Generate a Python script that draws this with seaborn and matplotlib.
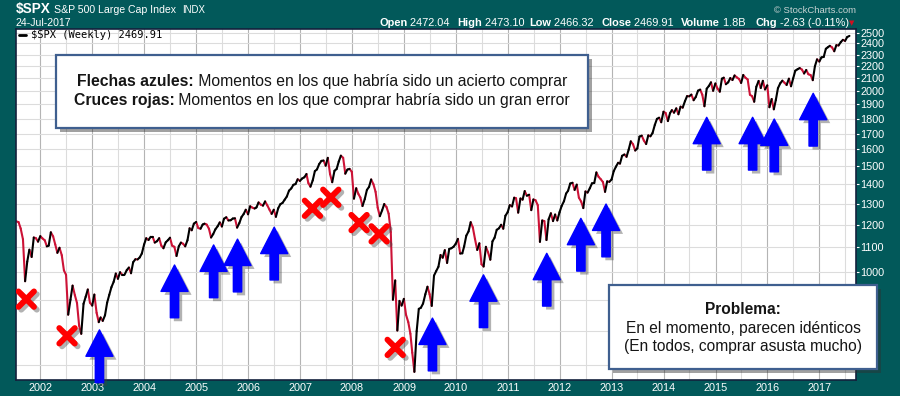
import pandas as pd
import matplotlib
matplotlib.use('Agg')
import matplotlib.pyplot as plt
import matplotlib.dates as mdates
import matplotlib.patheffects as pe
from matplotlib.patches import Rectangle
from matplotlib.lines import Line2D
from matplotlib.ticker import FixedLocator, NullFormatter, FuncFormatter
import seaborn as sns

first_month, last_month = '2001-07', '2017-07'
closes = [
    # 2001 (Jul-Dec)
    1215, 1211, 1182, 1134, 966, 1041, 1090, 1060, 1142, 1139, 1124, 1148,
    # 2002
    1138, 1130, 1104, 1107, 1165, 1147, 1112, 1077, 1098, 1067, 1007, 990,
    850, 900, 950, 916, 889, 815, 790, 886, 910, 936, 890, 880,
    # 2003
    918, 856, 826, 841, 830, 848, 890, 917, 944, 964, 995, 975,
    1000, 990, 990, 1008, 1018, 996, 1039, 1051, 1050, 1058, 1074, 1112,
    # 2004
    1139, 1131, 1145, 1145, 1120, 1126, 1139, 1107, 1096, 1121, 1130, 1141,
    1107, 1102, 1064, 1104, 1120, 1115, 1104, 1130, 1183, 1174, 1204, 1212,
    # 2005
    1184, 1181, 1200, 1204, 1200, 1181, 1142, 1157, 1178, 1192, 1210, 1191,
    1227, 1234, 1219, 1220, 1228, 1229, 1186, 1207, 1235, 1249, 1270, 1248,
    # 2006
    1287, 1280, 1276, 1281, 1306, 1295, 1290, 1311, 1292, 1270, 1250, 1270,
    1236, 1277, 1297, 1304, 1320, 1336, 1366, 1378, 1397, 1401, 1427, 1418,
    # 2007
    1431, 1438, 1456, 1407, 1387, 1421, 1472, 1482, 1512, 1531, 1533, 1503,
    1549, 1455, 1411, 1474, 1484, 1527, 1562, 1549, 1458, 1481, 1485, 1468,
    # 2008
    1325, 1379, 1349, 1331, 1288, 1323, 1370, 1386, 1426, 1400, 1360, 1280,
    1239, 1267, 1298, 1283, 1251, 1166, 900, 969, 800, 896, 880, 903,
    # 2009
    850, 826, 790, 735, 683, 798, 869, 873, 887, 919, 946, 919,
    879, 987, 1004, 1021, 1068, 1057, 1088, 1036, 1093, 1096, 1102, 1115,
    # 2010
    1136, 1074, 1075, 1104, 1150, 1169, 1211, 1187, 1136, 1089, 1117, 1031,
    1022, 1102, 1079, 1049, 1125, 1141, 1176, 1183, 1199, 1181, 1241, 1258,
    # 2011
    1293, 1286, 1330, 1327, 1256, 1326, 1320, 1364, 1340, 1345, 1268, 1321,
    1317, 1292, 1123, 1219, 1216, 1131, 1224, 1253, 1216, 1247, 1219, 1258,
    # 2012
    1289, 1312, 1351, 1366, 1404, 1408, 1370, 1398, 1330, 1310, 1278, 1362,
    1356, 1379, 1405, 1407, 1465, 1441, 1428, 1412, 1360, 1416, 1413, 1426,
    # 2013
    1472, 1498, 1520, 1515, 1561, 1569, 1555, 1598, 1650, 1631, 1593, 1606,
    1680, 1686, 1655, 1633, 1688, 1682, 1703, 1757, 1798, 1806, 1775, 1848,
    # 2014
    1839, 1783, 1838, 1859, 1841, 1872, 1830, 1884, 1877, 1924, 1962, 1960,
    1973, 1931, 1955, 2003, 2011, 1972, 1887, 2018, 2039, 2068, 2002, 2059,
    # 2015
    2019, 1995, 2097, 2105, 2053, 2068, 2102, 2086, 2123, 2107, 2095, 2063,
    2127, 2104, 2091, 1972, 1961, 1920, 2033, 2079, 2023, 2080, 2012, 2044,
    # 2016
    1880, 1940, 1865, 1932, 2022, 2060, 2081, 2065, 2047, 2097, 2037, 2099,
    2162, 2174, 2184, 2171, 2139, 2168, 2133, 2126, 2085, 2199, 2258, 2239,
    # 2017 (Jan-Jul)
    2275, 2279, 2351, 2364, 2378, 2363, 2329, 2384, 2381, 2412, 2433, 2423,
    2459, 2470,
]

# blue arrows (tip) = good moments to buy, red crosses = bad moments
arrow_dates = ['2003-02-20', '2004-08-01', '2005-05-03', '2005-10-18', '2006-07-03',
               '2009-07-20', '2010-07-14', '2011-10-02', '2012-05-29', '2012-11-22',
               '2014-10-31', '2015-09-19', '2016-02-18', '2016-11-18']
arrow_prices = [802, 1028, 1110, 1135, 1188, 839, 990, 1075, 1229, 1298,
                1809, 1809, 1797, 1983]
cross_dates = ['2001-09-23', '2002-07-07', '2007-03-29', '2007-08-05',
               '2008-02-20', '2008-07-10', '2008-10-31']
cross_prices = [902, 784, 1277, 1332, 1209, 1158, 750]

price_ticks = list(range(1000, 2600, 100))
grid_below = [700, 800, 900]

quote_parts = [('Open', '2472.04'), ('High', '2473.10'), ('Low', '2466.32'),
               ('Close', '2469.91'), ('Volume', '1.8B'), ('Chg', '-2.63 (-0.11%)')]

TEAL = '#02595a'
RED = '#cc1236'
W, H = 900, 396

sns.set_style('white')
plt.rcParams['font.family'] = ['Liberation Sans', 'DejaVu Sans']

# dates for the two points of each month
dates = []
for m in pd.period_range(first_month, last_month, freq='M'):
    dates.append(m.start_time + pd.Timedelta(days=14))
    dates.append(m.end_time.normalize())
df = pd.DataFrame({'date': dates, 'close': closes})

# split into 2-point segments so rising weeks are black and falling ones red
rows = []
for i in range(len(df) - 1):
    d = 'down' if df.close[i + 1] < df.close[i] else 'up'
    rows.append((i, df.date[i], df.close[i], d))
    rows.append((i, df.date[i + 1], df.close[i + 1], d))
seg = pd.DataFrame(rows, columns=['seg', 'date', 'close', 'dir'])

fig = plt.figure(figsize=(W / 100, H / 100), dpi=100, facecolor=TEAL)
ax = fig.add_axes([16 / W, 1 - 380 / H, 840 / W, 351 / H])
ax.set_facecolor('white')

sns.lineplot(data=seg, x='date', y='close', units='seg', estimator=None,
             hue='dir', palette={'up': 'black', 'down': RED}, legend=False,
             linewidth=1.5, solid_capstyle='round', ax=ax)

ax.set_yscale('log')
ax.set_ylim(662, 2536)
ax.set_xlim(pd.Timestamp('2001-07-13'), pd.Timestamp('2017-09-15'))
ax.set_xlabel('')
ax.set_ylabel('')

ax.yaxis.tick_right()
ax.yaxis.set_major_locator(FixedLocator(price_ticks))
ax.yaxis.set_major_formatter(FuncFormatter(lambda v, _: f'{v:.0f}'))
ax.yaxis.set_minor_locator(FixedLocator(grid_below))
ax.yaxis.set_minor_formatter(NullFormatter())
ax.xaxis.set_major_locator(mdates.YearLocator())
ax.xaxis.set_major_formatter(mdates.DateFormatter('%Y'))
ax.xaxis.set_minor_locator(mdates.MonthLocator(bymonth=7))

ax.tick_params(axis='y', which='major', direction='out', length=2.5, width=0.8,
               color='white', labelcolor='white', labelsize=7.8, pad=0.5)
ax.tick_params(axis='y', which='minor', length=0)
ax.tick_params(axis='x', which='both', length=0, labelcolor='white',
               labelsize=7.8, pad=2)

ax.set_axisbelow(True)
ax.grid(which='major', axis='x', color='#b4b4b4', linewidth=0.8)
ax.grid(which='minor', axis='x', color='#dcdcdc', linewidth=0.8)
ax.grid(which='both', axis='y', color='#dcdcdc', linewidth=0.8)
for s in ax.spines.values():
    s.set_color('#14213d')
    s.set_linewidth(1.2)

# blue arrows
arrow_fx = [pe.SimplePatchShadow(offset=(2.5, -2.5), shadow_rgbFace='#404040', alpha=0.4),
            pe.Normal()]
for d, p in zip(arrow_dates, arrow_prices):
    ax.annotate('', xy=(mdates.date2num(pd.Timestamp(d)), p), xytext=(0, -38),
                textcoords='offset points', annotation_clip=False,
                arrowprops=dict(arrowstyle='simple,head_length=1.9,head_width=1.95,tail_width=0.6',
                                color='#0000ff', shrinkA=0, shrinkB=0,
                                path_effects=arrow_fx))

# red crosses
sns.scatterplot(x=pd.to_datetime(cross_dates), y=cross_prices, marker='x', s=125,
                linewidth=4.2, color='#ff0000', ax=ax, zorder=4,
                path_effects=[pe.SimpleLineShadow(offset=(2, -2), shadow_color='#404040', alpha=0.4),
                              pe.Normal()])
ax.collections[-1].set_capstyle('round')

# series legend inside the plot
fig.add_artist(Line2D([19 / W, 26 / W], [1 - 35 / H] * 2, color='black', lw=2))
fig.text(31 / W, 1 - 35.5 / H, '$SPX (Weekly) 2469.91', family='DejaVu Sans Mono',
         fontsize=7.5, va='center', color='black')

renderer = fig.canvas.get_renderer()


def rich(x, y, parts, center=False, va='center', z=6):
    arts = [fig.text(0, 1 - y / H, t, fontweight=w, fontsize=fs, color=c, va=va, zorder=z)
            for t, w, fs, c in parts]
    widths = [a.get_window_extent(renderer).width for a in arts]
    x0 = x - sum(widths) / 2 if center else x
    for a, w in zip(arts, widths):
        a.set_x(x0 / W)
        x0 += w


# header
fig.text(16 / W, 1 - 13.5 / H, '$SPX', color='white', fontweight='bold', fontsize=9.8, va='baseline')
fig.text(54 / W, 1 - 13.3 / H, 'S&P 500 Large Cap Index', color='white', fontsize=7.6, va='baseline')
fig.text(182 / W, 1 - 13.3 / H, 'INDX', color='white', fontsize=6.9, va='baseline')
fig.text(16 / W, 1 - 26 / H, '24-Jul-2017', color='white', fontsize=7.6, va='baseline')
fig.text(856 / W, 1 - 13 / H, '© StockCharts.com', color='#c8d2d2', fontsize=6.8,
         va='baseline', ha='right')
quote_x = [379, 457, 529, 601, 681, 755]
for qx, (lab, val) in zip(quote_x, quote_parts):
    rich(qx, 26, [(lab, 'bold', 7.9, 'white'), (' ' + val, 'normal', 7.9, 'white')],
         va='baseline')
fig.text(852 / W, 1 - 23 / H, '▼', color='#d01020', fontsize=5, family='DejaVu Sans',
         va='center', ha='center')

# annotation boxes
box_fx = [pe.SimplePatchShadow(offset=(3, -3), shadow_rgbFace='#303030', alpha=0.45), pe.Normal()]


def fig_box(l, t, r, b):
    fig.add_artist(Rectangle((l / W, 1 - b / H), (r - l) / W, (b - t) / H,
                             transform=fig.transFigure, facecolor='white',
                             edgecolor='#3f5f8f', linewidth=1.6, zorder=5,
                             path_effects=box_fx))


TXT = '#151515'
fig_box(56, 55, 588, 128)
rich(322, 81.7, [('Flechas azules:', 'bold', 11.3, TXT),
                 (' Momentos en los que habría sido un acierto comprar', 'normal', 11.3, TXT)],
     center=True)
rich(322, 100, [('Cruces rojas:', 'bold', 11.3, TXT),
                (' Momentos en los que comprar habría sido un gran error', 'normal', 11.3, TXT)],
     center=True)

fig_box(609, 285, 877, 369)
rich(743, 309.3, [('Problema:', 'bold', 11.2, TXT)], center=True)
rich(743, 328.3, [('En el momento, parecen idénticos', 'normal', 11.2, TXT)], center=True)
rich(743, 346.7, [('(En todos, comprar asusta mucho)', 'normal', 11.2, TXT)], center=True)

fig.savefig('out.png', dpi=100, facecolor=TEAL)
